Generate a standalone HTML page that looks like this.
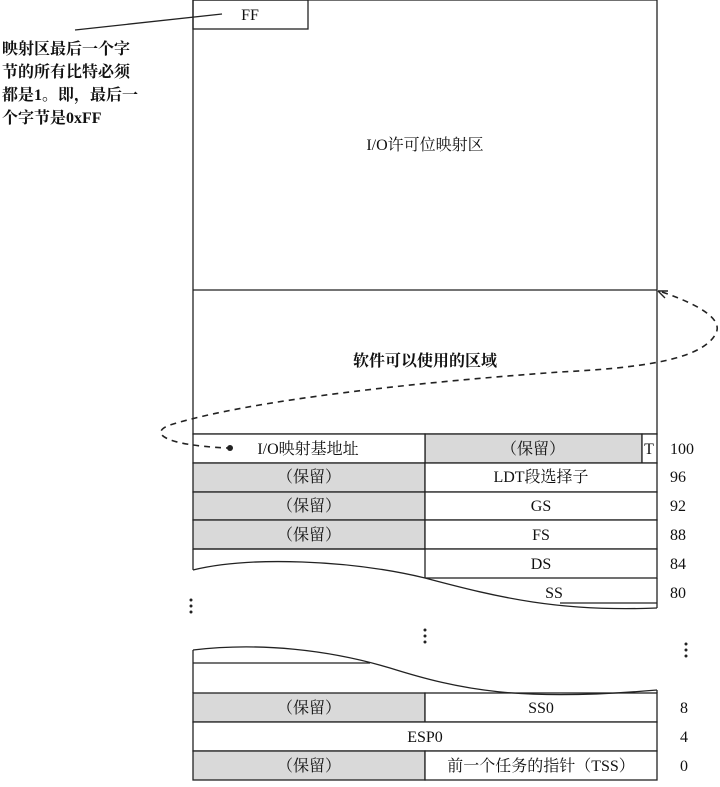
<!DOCTYPE html>
<html><head><meta charset="utf-8"><style>
body{margin:0;background:#fff;}
svg text{font-family:"Liberation Serif","Noto Serif CJK SC",serif;font-size:16px;fill:#111;}
</style></head><body>
<svg width="720" height="782" viewBox="0 0 720 782" xmlns="http://www.w3.org/2000/svg">
<g stroke="#222" stroke-width="1.3" fill="none">
<rect x="193" y="0" width="464" height="434"/>
<line x1="193" y1="290" x2="657" y2="290"/>
<rect x="193" y="0" width="115" height="29"/>
<line x1="75" y1="30" x2="222" y2="14"/>
</g>
<g stroke="#222" stroke-width="1.3">
<rect x="425" y="434" width="217" height="29" fill="#d9d9d9"/>
<rect x="642" y="434" width="15" height="29" fill="#fff"/>
<rect x="193" y="434" width="232" height="29" fill="#fff"/>
<rect x="193" y="463" width="232" height="29" fill="#d9d9d9"/>
<rect x="425" y="463" width="232" height="29" fill="#fff"/>
<rect x="193" y="492" width="232" height="28" fill="#d9d9d9"/>
<rect x="425" y="492" width="232" height="28" fill="#fff"/>
<rect x="193" y="520" width="232" height="29" fill="#d9d9d9"/>
<rect x="425" y="520" width="232" height="29" fill="#fff"/>
<rect x="425" y="549" width="232" height="29" fill="#fff"/>
<line x1="193" y1="549" x2="193" y2="570" fill="none"/>
<line x1="193" y1="549" x2="425" y2="549"/>
</g>
<path d="M192,570 C250,555 350,560 425,578 C500,598 560,612 658,606 L658,640 L192,640 Z" fill="#fff"/>
<g stroke="#222" stroke-width="1.3" fill="none">
<line x1="657" y1="578" x2="657" y2="608"/>
<line x1="560" y1="603" x2="657" y2="603"/>
<path d="M193,570 C250,556 350,560 425,578 C500,598 560,612 657,608"/>
</g>
<g stroke="#222" stroke-width="1.3">
<rect x="193" y="693" width="232" height="29" fill="#d9d9d9"/>
<rect x="425" y="693" width="232" height="29" fill="#fff"/>
<rect x="193" y="722" width="464" height="29" fill="#fff"/>
<rect x="193" y="751" width="232" height="29" fill="#d9d9d9"/>
<rect x="425" y="751" width="232" height="29" fill="#fff"/>
<g fill="none">
<line x1="193" y1="650" x2="193" y2="693"/>
<line x1="657" y1="690" x2="657" y2="693"/>
<line x1="193" y1="663" x2="370" y2="663"/>
<path d="M193,650 C260,642 330,650 390,668 C460,690 520,702 657,690"/>
</g>
</g>
<g fill="#222">
<circle cx="191" cy="600" r="1.5"/><circle cx="191" cy="606" r="1.5"/><circle cx="191" cy="612" r="1.5"/>
<circle cx="425" cy="630" r="1.5"/><circle cx="425" cy="636" r="1.5"/><circle cx="425" cy="642" r="1.5"/>
<circle cx="686" cy="644" r="1.5"/><circle cx="686" cy="650" r="1.5"/><circle cx="686" cy="656" r="1.5"/>
<circle cx="230" cy="448" r="3"/>
</g>
<path d="M662,292 C700,305 725,320 715,335 C700,360 640,368 560,372 C420,382 250,400 170,425 C150,432 160,445 228,448" fill="none" stroke="#222" stroke-width="1.6" stroke-dasharray="6,5"/>
<path d="M658,291 L668,291 M658,291 L665,298" stroke="#222" stroke-width="1.4"/>
<text x="250" y="20" text-anchor="middle">FF</text>
<g style="font-size:15.5px;font-weight:bold">
<text x="2" y="54">映射区最后一个字</text>
<text x="2" y="77">节的所有比特必须</text>
<text x="2" y="100">都是1。即，最后一</text>
<text x="2" y="123">个字节是0xFF</text>
</g>
<text x="425" y="150" text-anchor="middle">I/O许可位映射区</text>
<text x="425" y="366" text-anchor="middle" style="font-weight:bold">软件可以使用的区域</text>
<text x="308" y="454" text-anchor="middle">I/O映射基地址</text>
<text x="533" y="454" text-anchor="middle">（保留）</text>
<text x="649" y="454" text-anchor="middle">T</text>
<text x="309" y="482" text-anchor="middle">（保留）</text>
<text x="541" y="482" text-anchor="middle">LDT段选择子</text>
<text x="309" y="511" text-anchor="middle">（保留）</text>
<text x="541" y="511" text-anchor="middle">GS</text>
<text x="309" y="540" text-anchor="middle">（保留）</text>
<text x="541" y="540" text-anchor="middle">FS</text>
<text x="541" y="569" text-anchor="middle">DS</text>
<text x="554" y="598" text-anchor="middle">SS</text>
<text x="309" y="713" text-anchor="middle">（保留）</text>
<text x="541" y="713" text-anchor="middle">SS0</text>
<text x="425" y="742" text-anchor="middle">ESP0</text>
<text x="309" y="771" text-anchor="middle">（保留）</text>
<text x="541" y="771" text-anchor="middle">前一个任务的指针（TSS）</text>
<text x="670" y="454">100</text>
<text x="670" y="482">96</text>
<text x="670" y="511">92</text>
<text x="670" y="540">88</text>
<text x="670" y="569">84</text>
<text x="670" y="598">80</text>
<text x="680" y="713">8</text>
<text x="680" y="742">4</text>
<text x="680" y="771">0</text>
</svg>
</body></html>
